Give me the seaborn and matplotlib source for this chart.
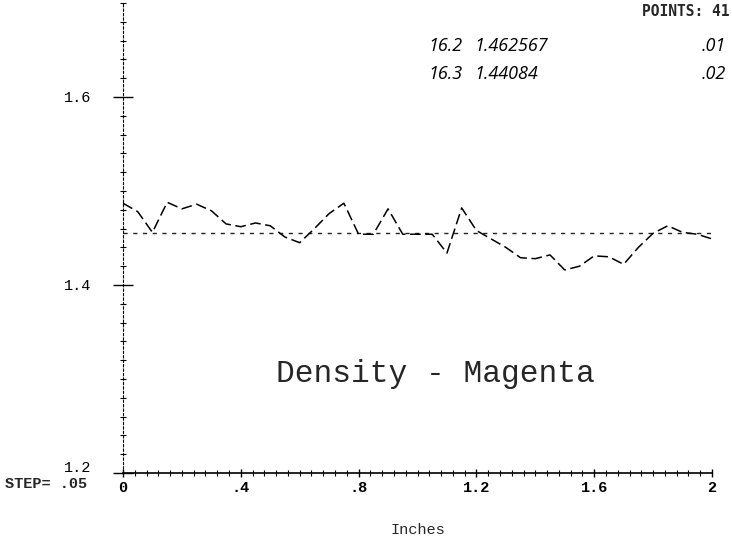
import numpy as np
import pandas as pd
import matplotlib
matplotlib.use("Agg")
import matplotlib.pyplot as plt
import matplotlib.transforms as mtransforms
import seaborn as sns
from matplotlib.ticker import MultipleLocator

# ---- data ----
inches = [round(0.05 * i, 2) for i in range(41)]
density = [1.487, 1.478, 1.456, 1.488, 1.481, 1.486, 1.479, 1.465, 1.462, 1.466,
           1.463, 1.451, 1.445, 1.460, 1.476, 1.487, 1.454, 1.454, 1.481, 1.454,
           1.454, 1.454, 1.434, 1.482, 1.458, 1.449, 1.440, 1.429, 1.428, 1.432,
           1.416, 1.420, 1.431, 1.430, 1.422, 1.440, 1.455, 1.463, 1.456, 1.454,
           1.449]
ref_level = 1.455
x_ticks = [0, 0.4, 0.8, 1.2, 1.6, 2.0]
x_tick_labels = ["0", ".4", ".8", "1.2", "1.6", "2"]
y_ticks = [1.2, 1.4, 1.6]
y_tick_labels = ["1.2", "1.4", "1.6"]
title_text = "Density - Magenta"
x_label = "Inches"
step_text = "STEP= .05"
points_text = "POINTS: 41"
note_rows = [("16.2", "1.462567", ".01"), ("16.3", "1.44084", ".02")]

df = pd.DataFrame({"Inches": inches, "Density": density})

sns.set_style("white")
plt.rcParams["font.family"] = ["Liberation Mono", "DejaVu Sans Mono"]

W, H = 732, 539
fig = plt.figure(figsize=(W / 100, H / 100), dpi=100)
ax = fig.add_axes([123 / W, 66 / H, 589 / W, 470 / H])

ax.axhline(ref_level, color="#222222", lw=1.0, ls=(0, (3, 4)))
sns.lineplot(data=df, x="Inches", y="Density", ax=ax, color="black",
             lw=1.1, linestyle=(0, (7, 3)))

ax.set_xlim(0, 2)
ax.set_ylim(1.2, 1.7)

ax.set_xticks(x_ticks)
ax.set_xticklabels(x_tick_labels, fontsize=11, fontweight="bold")
ax.set_yticks(y_ticks)
ax.set_yticklabels(y_tick_labels, fontsize=11)
ax.xaxis.set_minor_locator(MultipleLocator(0.04))
ax.yaxis.set_minor_locator(MultipleLocator(0.02))

ax.tick_params(bottom=True, left=True, which="both")
ax.tick_params(axis="y", which="major", direction="inout", length=14, width=1,
               pad=16, colors="black")
ax.tick_params(axis="y", which="minor", direction="inout", length=5, width=0.8,
               colors="black")
ax.tick_params(axis="x", which="major", direction="inout", length=6, width=1,
               pad=3, colors="black")
ax.tick_params(axis="x", which="minor", direction="inout", length=4, width=0.8,
               colors="black")

# lift the bottom y label a little, as on the original plot
lab0 = ax.get_yticklabels()[0]
lab0.set_transform(lab0.get_transform() +
                   mtransforms.ScaledTranslation(0, 7 / 100, fig.dpi_scale_trans))

for s in ["top", "right"]:
    ax.spines[s].set_visible(False)
ax.spines["left"].set_linestyle((0, (2, 2)))
ax.spines["left"].set_linewidth(0.8)
ax.spines["left"].set_color("black")
ax.spines["bottom"].set_linewidth(1.2)
ax.spines["bottom"].set_color("black")

ax.set_xlabel(x_label, fontsize=11, labelpad=20)
ax.set_ylabel("")

ax.text(0.531, 0.21, title_text, transform=ax.transAxes, fontsize=22.5,
        ha="center", va="center", family=["Liberation Mono"])

fig.text(5 / W, 1 - 484 / H, step_text, fontsize=11, fontweight="bold",
         ha="left", va="center")
fig.text(730 / W, 1 - 12 / H, points_text, fontsize=10.5, fontweight="bold",
         ha="right", va="center", family=["DejaVu Sans Mono"])

hand = dict(fontsize=13, style="italic", family=["Open Sans", "DejaVu Sans"],
            color="black", va="center")
for row_y, (a, b, c) in zip([46, 74], note_rows):
    fig.text(428 / W, 1 - row_y / H, a, **hand)
    fig.text(474 / W, 1 - row_y / H, b, **hand)
    fig.text(702 / W, 1 - row_y / H, c, **hand)

fig.savefig("out.png", dpi=100)
